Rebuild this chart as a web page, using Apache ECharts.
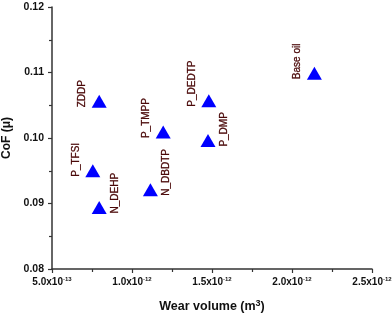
<!DOCTYPE html>
<html><head><meta charset="utf-8">
<script src="https://cdn.jsdelivr.net/npm/echarts@6/dist/echarts.min.js"></script>
<style>html,body{margin:0;padding:0;background:#fff}#c{width:392px;height:315px}</style>
</head><body><div id="c"></div>
<script>
// Wear volume in units of 1e-12 m^3
var names = ['ZDDP','P_TMPP','P_DEDTP','P_DMP','Base oil','P_TFSI','N_DEHP','N_DBDTP'];
var wearVolume = [0.795, 1.195, 1.48, 1.475, 2.14, 0.755, 0.795, 1.115];
var cof = [0.1056, 0.1009, 0.1057, 0.0996, 0.1099, 0.0950, 0.0894, 0.0921];
var labelSide = ['left','left','left','right','left','left','right','right'];
var xTickLabels = [['5.0x10','-13'],['1.0x10','-12'],['1.5x10','-12'],['2.0x10','-12'],['2.5x10','-12']];
var yTickLabels = ['0.08','0.09','0.10','0.11','0.12'];

var font = '"Liberation Sans", Arial, sans-serif';
var axisColor = '#333';
var data = names.map(function(n,i){
  var left = labelSide[i] === 'left';
  return {
    name: n, value: [wearVolume[i], cof[i]],
    label: { offset: left ? [-6, -17] : [-6, 16] }
  };
});
var chart = echarts.init(document.getElementById('c'), null, {renderer:'canvas'});
chart.setOption({
  animation: false,
  backgroundColor: '#fff',
  grid: {left: 52, top: 7, right: 20, bottom: 46, containLabel: false, outerBoundsMode: 'none'},
  xAxis: {
    type: 'value', min: 0.5, max: 2.5, interval: 0.5,
    axisLine: {show: true, lineStyle: {color: axisColor, width: 1.5}},
    axisTick: {show: true, length: 4, inside: false, lineStyle: {color: axisColor, width: 1.2}},
    minorTick: {show: true, splitNumber: 2, length: 3, lineStyle: {color: axisColor, width: 1.2}},
    splitLine: {show: false},
    axisLabel: {
      margin: 7,
      formatter: function(v, idx){ var t = xTickLabels[idx]; return '{b|' + t[0] + '}{s|' + t[1] + '}'; },
      rich: {
        b: {fontFamily: font, fontWeight: 'bold', fontSize: 10, color: '#111'},
        s: {fontFamily: font, fontWeight: 'bold', fontSize: 6, color: '#111', padding: [0,0,6,0]}
      }
    },
    name: 'Wear volume (m{s|3})',
    nameLocation: 'middle', nameGap: 30,
    nameTextStyle: {
      fontFamily: font, fontWeight: 'bold', fontSize: 12.5, color: '#111',
      rich: { s: {fontFamily: font, fontWeight: 'bold', fontSize: 9, color: '#111', padding: [0,0,7,0]} }
    }
  },
  yAxis: {
    type: 'value', min: 0.08, max: 0.12, interval: 0.01,
    axisLine: {show: true, lineStyle: {color: axisColor, width: 1.5}},
    axisTick: {show: true, length: 4, inside: false, lineStyle: {color: axisColor, width: 1.2}},
    minorTick: {show: true, splitNumber: 2, length: 3, lineStyle: {color: axisColor, width: 1.2}},
    splitLine: {show: false},
    axisLabel: {
      margin: 8,
      formatter: function(v, idx){ return yTickLabels[idx]; },
      fontFamily: font, fontWeight: 'bold', fontSize: 10.5, color: '#111'
    },
    name: 'CoF (\u03bc)',
    nameLocation: 'middle', nameGap: 36, nameRotate: 90,
    nameTextStyle: {fontFamily: font, fontWeight: 'bold', fontSize: 12, color: '#111'}
  },
  series: [{
    type: 'scatter',
    symbol: 'triangle', symbolSize: [15, 13],
    itemStyle: {color: '#0000ff', opacity: 1},
    data: data,
    label: {
      show: true, position: 'inside', rotate: 90,
      align: 'left', verticalAlign: 'middle',
      formatter: '{b}', fontFamily: font, fontSize: 10, color: '#4a0808',
      textBorderColor: '#4a0808', textBorderWidth: 0.3
    },
    emphasis: {disabled: true}
  }]
});
</script></body></html>
